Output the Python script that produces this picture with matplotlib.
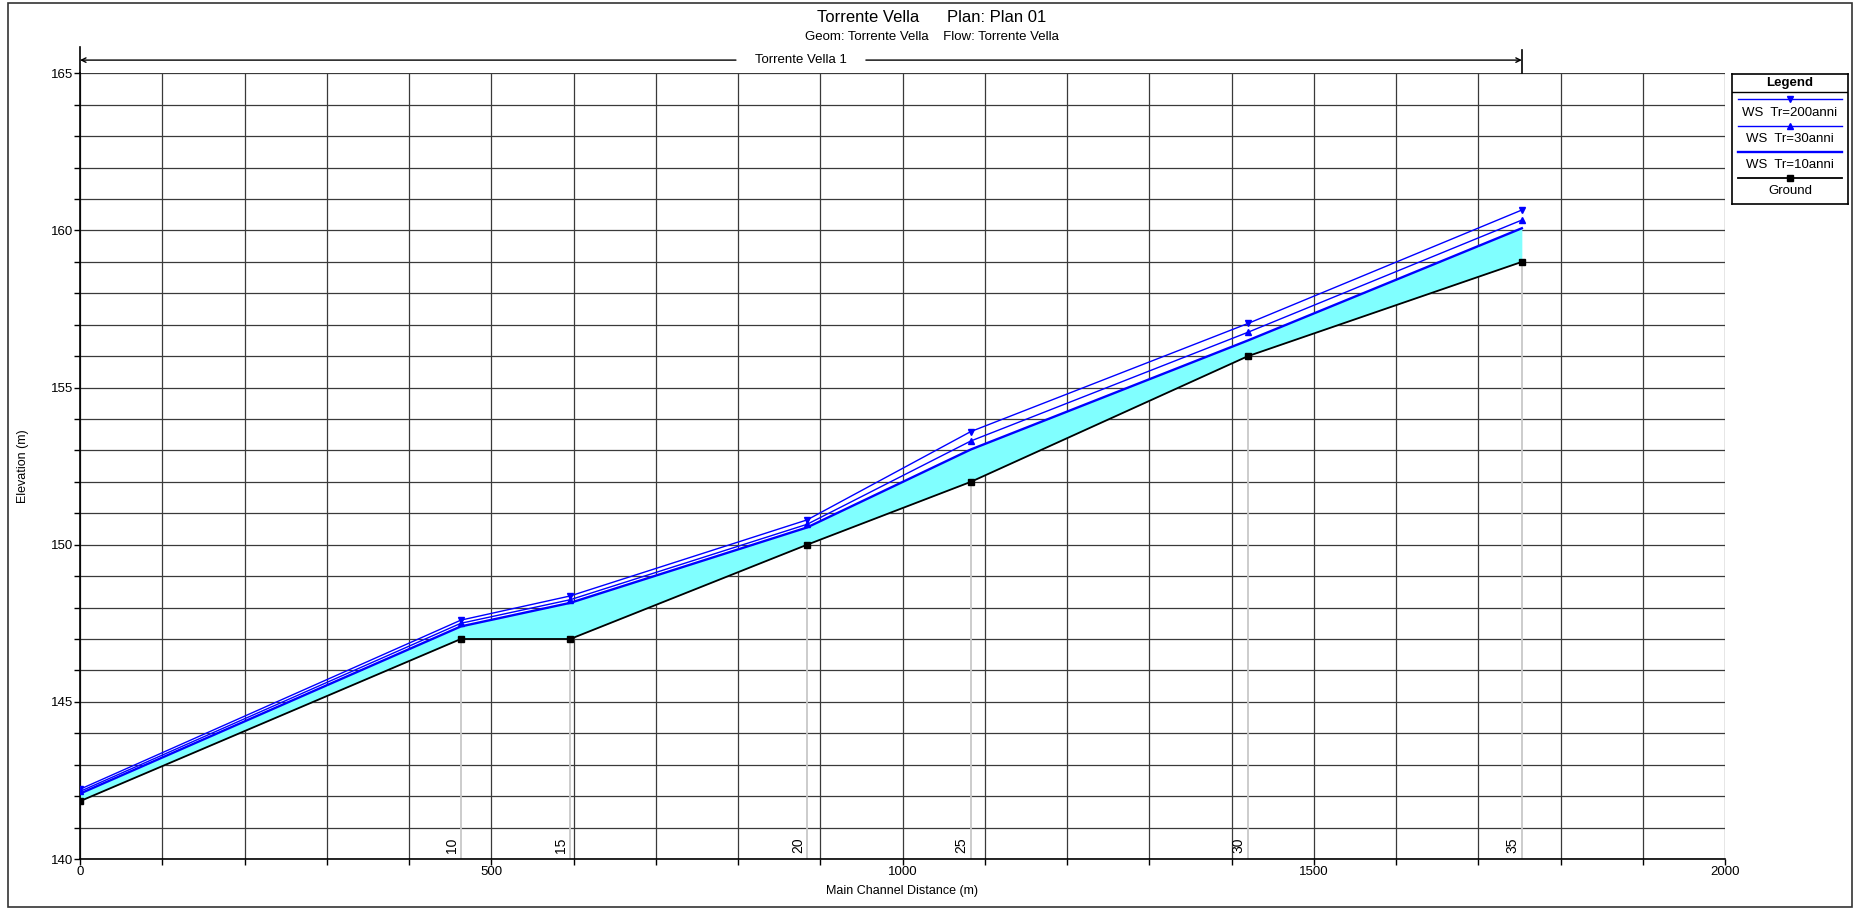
import matplotlib
matplotlib.use("Agg")
import matplotlib.pyplot as plt
from matplotlib.patches import Rectangle

plt.rcParams['font.family'] = ['Liberation Sans', 'DejaVu Sans']

# main channel distance (m) of each cross section
dist = [0, 463, 596, 884, 1083, 1420, 1753]
ground = [141.84, 147.00, 147.00, 150.00, 152.00, 156.00, 159.00]
ws200 = [142.22, 147.60, 148.37, 150.79, 153.60, 157.04, 160.65]
ws30 = [142.15, 147.50, 148.25, 150.65, 153.30, 156.76, 160.33]
ws10 = [142.08, 147.40, 148.15, 150.55, 153.03, 156.50, 160.07]
stations = ['', '10', '15', '20', '25', '30', '35']

reach_name = 'Torrente Vella 1'
legend_labels = ['WS  Tr=200anni', 'WS  Tr=30anni', 'WS  Tr=10anni', 'Ground']

W, H = 1854, 909
fig = plt.figure(figsize=(W / 100, H / 100), dpi=100)
ax = fig.add_axes([80 / W, 1 - 859 / H, (1725 - 80) / W, (859 - 73.3) / H])

ax.set_xlim(0, 2000)
ax.set_ylim(140, 165)
ax.set_xticks(range(0, 2001, 500))
ax.set_xticks(range(0, 2001, 100), minor=True)
ax.set_yticks(range(140, 166, 5))
ax.set_yticks(range(140, 166, 1), minor=True)
ax.grid(True, which='both', color='#3a3a3a', lw=0.9, zorder=0)
ax.set_axisbelow(True)
ax.tick_params(which='both', direction='out', length=4, width=1, labelsize=9.5, pad=1)
for s in ('top', 'right'):
    ax.spines[s].set_visible(False)
ax.spines['left'].set_linewidth(1.2)
ax.spines['bottom'].set_linewidth(1.2)

ax.set_xlabel('Main Channel Distance (m)', fontsize=9, labelpad=5)
ax.set_ylabel('Elevation (m)', fontsize=9, labelpad=16)

# water between ground and lowest profile
ax.fill_between(dist, ground, ws10, color='#80ffff', lw=0, zorder=2)

# cross section marks with river station labels
for d, g, st in zip(dist, ground, stations):
    if st:
        ax.plot([d, d], [140, g], color='#c8c8c8', lw=1.3, zorder=1.5)
        ax.annotate(st, (d, 140), xytext=(-1.5, 4), textcoords='offset points',
                    rotation=90, ha='right', va='bottom', fontsize=10)

ax.plot(dist, ws200, color='#0000ff', lw=1.0, marker='v', ms=4.5, zorder=4)
ax.plot(dist, ws30, color='#0000ff', lw=1.0, marker='^', ms=4.5, zorder=4)
ax.plot(dist, ws10, color='#0000ff', lw=1.7, zorder=4)
ax.plot(dist, ground, color='black', lw=1.3, marker='s', ms=4.5, zorder=5)

# reach extent bar above the plot
y_bar = 165.42
mid = (dist[0] + dist[-1]) / 2
gap = 79
ax.plot([dist[0], dist[0]], [165, 165.83], color='black', lw=1.2, clip_on=False)
ax.plot([dist[-1], dist[-1]], [165, 165.75], color='black', lw=1.2, clip_on=False)
ax.annotate('', xy=(dist[0], y_bar), xytext=(mid - gap, y_bar),
            arrowprops=dict(arrowstyle='->', lw=1, color='black', shrinkA=0, shrinkB=0,
                            mutation_scale=8), annotation_clip=False)
ax.annotate('', xy=(dist[-1], y_bar), xytext=(mid + gap, y_bar),
            arrowprops=dict(arrowstyle='->', lw=1, color='black', shrinkA=0, shrinkB=0,
                            mutation_scale=8), annotation_clip=False)
ax.text(mid, y_bar, reach_name, ha='center', va='center', fontsize=9.5, clip_on=False)

# titles
fig.text(932 / W, 1 - 17 / H, 'Torrente Vella      Plan: Plan 01', ha='center', va='center', fontsize=12)
fig.text(932 / W, 1 - 37 / H, 'Geom: Torrente Vella    Flow: Torrente Vella', ha='center', va='center', fontsize=9.5)

# legend box
lx0, lx1, ly0, ly1 = 1732, 1848, 74, 204
lax = fig.add_axes([lx0 / W, 1 - ly1 / H, (lx1 - lx0) / W, (ly1 - ly0) / H])
lax.set_xlim(lx0, lx1)
lax.set_ylim(ly1, ly0)
lax.set_xticks([])
lax.set_yticks([])
for s in lax.spines.values():
    s.set_linewidth(1.2)
lax.text((lx0 + lx1) / 2, 83, 'Legend', ha='center', va='center', fontsize=9.5, fontweight='bold')
lax.plot([lx0, lx1], [92, 92], color='black', lw=1)
styles = [('#0000ff', 1.0, 'v'), ('#0000ff', 1.0, '^'), ('#0000ff', 1.7, None), ('black', 1.3, 's')]
line_y = [99.3, 126, 152, 177.7]
for (c, lw, m), yl, lab in zip(styles, line_y, legend_labels):
    lax.plot([1738, 1842], [yl, yl], color=c, lw=lw)
    if m:
        lax.plot([1790], [yl], color=c, marker=m, ms=4.5)
    lax.text(1790, yl + 13.3, lab, ha='center', va='center', fontsize=9.5)

# outer frame
fig.patches.append(Rectangle((8 / W, 2 / H), (1852 - 8) / W, (906 - 2) / H,
                             transform=fig.transFigure, fill=False, lw=1.2, color='#333333'))

fig.savefig('out.png', dpi=100)
